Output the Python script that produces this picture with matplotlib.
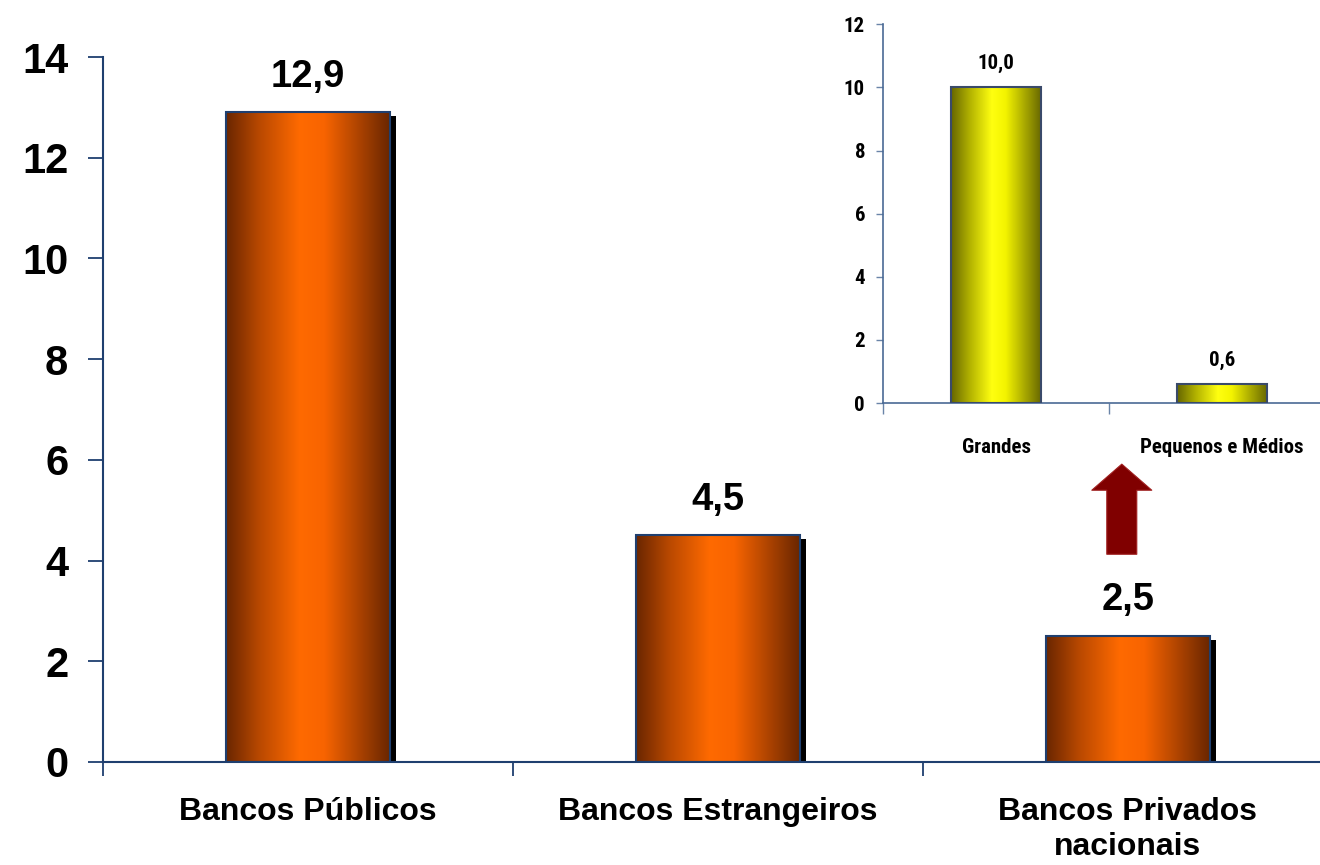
import numpy as np
import matplotlib.pyplot as plt
from matplotlib import font_manager
from matplotlib.colors import LinearSegmentedColormap
from matplotlib.patches import FancyArrowPatch
from matplotlib.transforms import ScaledTranslation

# main chart
categorias = ['Bancos Públicos', 'Bancos Estrangeiros', 'Bancos Privados\nnacionais']
valores = [12.9, 4.5, 2.5]
# detail of private national banks
sub_categorias = ['Grandes', 'Pequenos e Médios']
sub_valores = [10.0, 0.6]

navy = '#1f3f6f'
orange_cm = LinearSegmentedColormap.from_list(
    'laranja', [(0, '#6a2600'), (0.2, '#b84800'), (0.45, '#ff6a00'), (0.6, '#f86400'), (1, '#6a2600')])
yellow_cm = LinearSegmentedColormap.from_list(
    'amarelo', [(0, '#666600'), (0.2, '#b0b000'), (0.45, '#ffff10'), (0.6, '#f4f400'), (1, '#666600')])
grad = np.linspace(0, 1, 256).reshape(1, -1)

# pick a condensed face for the small chart if one is installed
installed = {f.name for f in font_manager.fontManager.ttflist}
narrow_font = next((n for n in ['Liberation Sans Narrow', 'Arial Narrow', 'Roboto Condensed',
                                'DejaVu Sans Condensed', 'Open Sans Condensed']
                    if n in installed), 'Liberation Sans')
narrow_size = 15 if narrow_font != 'Liberation Sans' else 12


def gradient_bars(ax, xs, vals, width, cmap, edge, shadow=False):
    for x, v in zip(xs, vals):
        x0 = x - width / 2
        if shadow:
            off = ax.transData + ScaledTranslation(6 / 100, -4 / 100, ax.figure.dpi_scale_trans)
            ax.bar(x, v, width, color='black', transform=off, zorder=1)
        ax.imshow(grad, cmap=cmap, extent=(x0, x0 + width, 0, v), aspect='auto', zorder=2)
        ax.bar(x, v, width, facecolor='none', edgecolor=edge, linewidth=1.5, zorder=3)


fig = plt.figure(figsize=(13.2, 8.65), dpi=100)

# ---- main axes
ax = fig.add_axes([0.078, 0.1191, 0.9318, 0.815])
x = np.arange(len(valores))
gradient_bars(ax, x, valores, 0.4, orange_cm, navy, shadow=True)
for xi, v in zip(x, valores):
    ax.text(xi, v + 0.35, f'{v:.1f}'.replace('.', ','), ha='center', va='bottom',
            fontsize=27.5, fontweight='bold', family='Liberation Sans')
ax.set_xlim(-0.5, 2.5)
ax.set_ylim(0, 14)
ax.set_yticks(range(0, 15, 2))
ax.set_xticks(x)
ax.set_xticklabels(categorias, fontsize=23, fontweight='bold', family='Liberation Sans',
                   linespacing=1.22)
ax.set_xticks([-0.5, 0.5, 1.5], minor=True)
ax.tick_params(axis='x', which='major', length=0, pad=25)
ax.tick_params(axis='x', which='minor', length=10, width=1.3, color=navy, direction='out')
ax.tick_params(axis='y', length=11, width=1.3, color=navy, pad=14)
for lab in ax.get_yticklabels():
    lab.set_fontsize(30)
    lab.set_fontweight('bold')
    lab.set_family('Liberation Sans')
for s in ['top', 'right']:
    ax.spines[s].set_visible(False)
for s in ['left', 'bottom']:
    ax.spines[s].set_color(navy)
    ax.spines[s].set_linewidth(1.5)

# arrow pointing to the detail chart
arrow = FancyArrowPatch((1.985, 4.07), (1.985, 5.97),
                        arrowstyle='simple,head_length=0.87,head_width=2.0,tail_width=1.0',
                        mutation_scale=21.6, facecolor='#800000', edgecolor='#a02020',
                        linewidth=0.8, zorder=4)
ax.add_patch(arrow)

# ---- inset axes
ins = fig.add_axes([0.669, 0.534, 0.3424, 0.438])
xs = np.arange(len(sub_valores))
gradient_bars(ins, xs, sub_valores, 0.4, yellow_cm, '#3a4a6a')
for xi, v in zip(xs, sub_valores):
    ins.text(xi, v + 0.45, f'{v:.1f}'.replace('.', ','), ha='center', va='bottom',
             fontsize=narrow_size, fontweight='bold', family=narrow_font)
ins.set_xlim(-0.5, 1.5)
ins.set_ylim(0, 12)
ins.set_yticks(range(0, 13, 2))
ins.set_xticks(xs)
ins.set_xticklabels(sub_categorias, fontsize=narrow_size, fontweight='bold', family=narrow_font)
ins.set_xticks([-0.5, 0.5], minor=True)
ins.tick_params(axis='x', which='major', length=0, pad=25)
ins.tick_params(axis='x', which='minor', length=8, width=1, color='#6a84a8', direction='out')
ins.tick_params(axis='y', length=5, width=1, color='#6a84a8', pad=8)
for lab in ins.get_yticklabels():
    lab.set_fontsize(narrow_size)
    lab.set_fontweight('bold')
    lab.set_family(narrow_font)
for s in ['top', 'right']:
    ins.spines[s].set_visible(False)
for s in ['left', 'bottom']:
    ins.spines[s].set_color('#4a6a95')
    ins.spines[s].set_linewidth(1.2)
ins.patch.set_alpha(0)

fig.savefig('out.png', dpi=100)
